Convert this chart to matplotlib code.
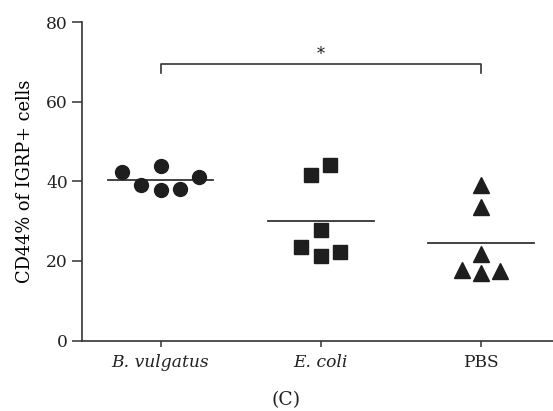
import matplotlib
matplotlib.use('Agg')
import matplotlib.pyplot as plt
import numpy as np

# ── data ──
groups = ['B. vulgatus', 'E. coli', 'PBS']
italic = [True, True, False]
markers = ['o', 's', '^']
b_vulgatus = [42.4, 39.2, 43.9, 37.8, 38.0, 41.0]
e_coli = [23.4, 41.6, 27.9, 21.2, 44.0, 22.2]
pbs = [17.7, 39.1, 33.6, 21.7, 16.9, 17.5]
values = [b_vulgatus, e_coli, pbs]
# horizontal scatter of the points within each column
offsets = [
    [-0.24, -0.12, 0.0, 0.0, 0.12, 0.24],
    [-0.12, -0.06, 0.0, 0.0, 0.06, 0.12],
    [-0.12, 0.0, 0.0, 0.0, 0.0, 0.12],
]
sig_pair = (0, 2)
sig_y = 69.6
yticks = [0, 20, 40, 60, 80]

INK = '#1e1e1e'
LINE = '#333333'
plt.rcParams.update({
    'font.family': ['DejaVu Serif'],
    'font.size': 12.3,
    'axes.edgecolor': LINE,
    'xtick.color': LINE, 'ytick.color': LINE,
    'text.color': '#222222', 'xtick.labelcolor': '#222222', 'ytick.labelcolor': '#222222',
})

fig = plt.figure(figsize=(5.53, 4.11), dpi=100)
ax = fig.add_axes([82 / 553, 1 - 340.5 / 411, 1 - 82 / 553, (340.5 - 22.3) / 411])

for i, (vals, offs, m) in enumerate(zip(values, offsets, markers)):
    xs = i + np.array(offs)
    ms = 10 if m != '^' else 11
    ax.plot(xs, vals, ls='none', marker=m, ms=ms, color=INK, mec=INK, zorder=3)
    ax.plot([i - 0.33, i + 0.33], [np.mean(vals)] * 2, color=LINE, lw=1.3, zorder=2)

# significance bracket
a, b = sig_pair
ax.plot([a, a, b, b], [sig_y - 2.3, sig_y, sig_y, sig_y - 2.3], color=LINE, lw=1.2,
        clip_on=False)
ax.text((a + b) / 2, sig_y + 0.2, '*', ha='center', va='bottom', fontsize=11.5)

ax.set_xlim(-0.49, 2.45)
ax.set_ylim(0, 80)
ax.set_yticks(yticks)
ax.set_xticks(range(len(groups)))
ax.set_xticklabels(groups)
for lab, it in zip(ax.get_xticklabels(), italic):
    if it:
        lab.set_style('italic')
ax.spines['top'].set_visible(False)
ax.spines['right'].set_visible(False)
ax.spines['left'].set_linewidth(1.2)
ax.spines['bottom'].set_linewidth(1.2)
ax.tick_params(axis='y', length=7, width=1.1, pad=3)
ax.tick_params(axis='x', length=4, width=1.1, pad=6)
ax.set_ylabel('CD44% of IGRP+ cells', fontsize=12.8, labelpad=9)

fig.text(286 / 553, 1 - 400 / 411, '(C)', ha='center', va='center', fontsize=13.5)

fig.savefig('out.png', dpi=100)
